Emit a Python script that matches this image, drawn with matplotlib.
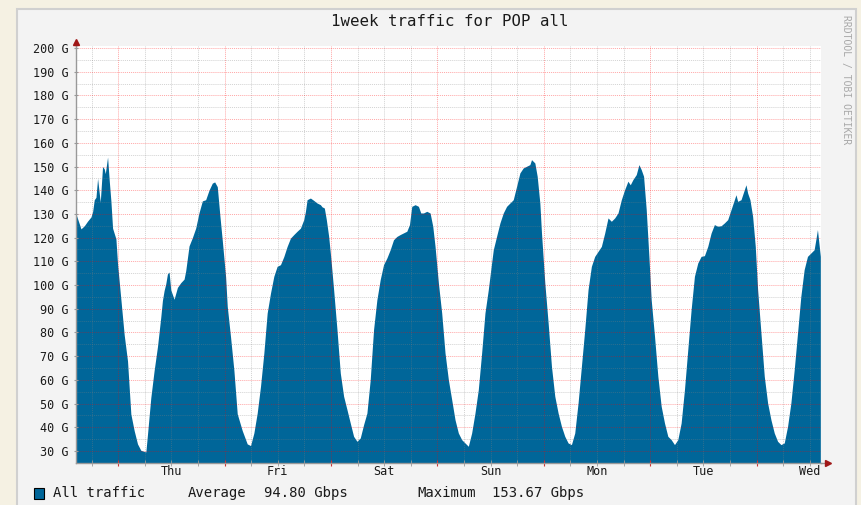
import numpy as np
import matplotlib.pyplot as plt
from matplotlib.patches import Rectangle

# rrdtool 스타일 폰트 (모노스페이스)
plt.rcParams['font.family'] = ['DejaVu Sans Mono']

# ===== 데이터: 시작(수 14:30)부터의 시간(h) / 트래픽(Gbps) =====
hours = [
    0.00, 1.12, 1.87, 2.62, 3.37, 3.75, 4.12, 4.50, 4.87, 5.47,
    5.99, 6.37, 6.60, 7.12, 7.50, 7.87, 8.25, 9.00, 9.37, 10.12,
    10.87, 11.62, 12.37, 13.12, 13.87, 14.62, 15.75, 16.12, 16.87, 17.62,
    18.37, 19.12, 19.49, 19.87, 20.24, 20.62, 20.99, 21.37, 22.12, 22.87,
    23.62, 24.37, 24.74, 25.49, 26.24, 26.99, 27.74, 28.49, 29.24, 29.99,
    30.74, 31.27, 31.86, 32.46, 32.98, 33.74, 34.11, 34.86, 35.61, 36.36,
    37.49, 38.61, 39.36,
    40.11, 40.86, 41.61, 42.36, 43.11, 43.86, 44.61, 45.36, 46.11, 46.86,
    47.61, 48.36, 49.11, 49.86, 50.61, 51.36, 51.73, 52.11, 52.86, 53.61,
    54.36, 55.11, 55.48, 56.00, 56.45, 56.98, 57.50, 58.10, 58.85, 59.60,
    60.35, 61.10, 61.85, 62.60, 63.35, 64.10, 64.85, 65.60, 66.35, 67.10,
    67.85, 68.60, 69.35, 70.10, 70.85, 71.60, 72.35, 73.10, 73.85, 74.60,
    75.20, 75.72, 76.47, 77.22, 77.75, 78.35, 79.10, 79.85, 80.45, 80.97,
    81.72, 82.47, 83.22, 83.97, 84.72, 85.47, 86.22, 86.97, 87.72, 88.47,
    89.22, 89.97, 90.72, 91.47, 92.22, 92.97, 93.72,
    94.10, 94.85, 95.60, 96.35, 97.10, 97.85, 98.60, 99.35, 100.10, 100.85,
    101.60, 102.35, 102.72, 103.47, 104.00, 104.60, 104.97, 105.72, 106.47, 107.22,
    107.97, 108.72, 109.47, 110.22, 110.97, 111.72, 112.47, 113.22, 113.97, 114.72,
    115.47, 116.22, 116.97, 117.72, 118.47, 119.22, 119.97, 120.72, 121.47, 122.22,
    122.97, 123.71, 124.46, 124.99, 125.59, 126.34, 126.94, 127.46, 127.99, 128.59,
    129.19, 129.71, 130.46, 131.21, 131.96, 132.71, 133.46, 134.21, 134.96, 135.71,
    136.46, 137.21, 137.96, 138.71, 139.46, 140.21, 140.96, 141.71, 142.46, 143.21,
    143.96, 144.71, 145.46, 146.21, 146.96, 147.71, 148.46, 148.83, 149.21, 149.96,
    150.71, 151.08, 151.46, 151.98, 152.58, 153.18, 153.71, 154.46, 155.21, 155.96,
    156.71, 157.46, 158.21, 158.96, 159.71, 160.46, 161.21, 161.96, 162.71, 163.45,
    164.20, 164.95, 165.70, 166.45, 166.83, 167.20, 167.85,
]
gbps = [
    130.0, 123.7, 125.0, 127.0, 128.7, 131.0, 136.0, 137.0, 145.0, 135.0,
    150.0, 149.0, 147.0, 154.0, 144.0, 135.5, 124.0, 119.5, 109.0, 94.0,
    79.0, 68.0, 45.6, 38.6, 33.0, 30.3, 29.6, 37.0, 52.5, 64.0,
    74.0, 86.5, 93.5, 97.7, 100.5, 104.7, 105.5, 98.0, 94.0, 99.0,
    101.0, 102.5, 106.0, 116.5, 120.0, 124.0, 130.5, 135.5, 136.0, 140.0,
    143.0, 143.5, 141.5, 129.0, 119.0, 103.5, 91.0, 78.0, 64.0, 45.7,
    38.6, 33.0, 32.3,
    37.6, 46.0, 57.3, 71.3, 88.2, 96.6, 103.7, 107.9, 108.6, 112.0,
    116.3, 119.8, 121.3, 122.7, 124.0, 127.6, 131.0, 136.0, 136.7, 135.7,
    134.6, 133.9, 133.0, 132.5, 127.6, 120.5, 110.7, 98.0, 81.2, 62.9,
    53.1, 47.5, 41.8, 36.2, 34.1, 35.5, 41.1, 46.0, 60.1, 81.2,
    93.8, 102.3, 108.6, 111.4, 114.9, 119.1, 120.5, 121.3, 122.0, 122.7,
    125.5, 133.2, 133.9, 133.2, 130.4, 130.4, 131.1, 130.4, 124.8, 116.3,
    100.9, 88.2, 71.3, 60.1, 51.7, 43.2, 37.6, 34.8, 33.4, 32.0,
    37.6, 46.0, 55.9, 71.3, 88.2, 98.0, 109.3,
    114.9, 120.6, 126.2, 130.4, 133.2, 134.6, 136.0, 141.6, 147.3, 149.4,
    150.1, 150.8, 152.9, 151.5, 145.9, 134.6, 122.0, 100.9, 84.0, 65.7,
    53.1, 46.0, 40.4, 36.2, 33.4, 32.7, 37.6, 50.3, 65.7, 81.2,
    98.1, 107.9, 112.1, 114.2, 116.3, 121.9, 128.3, 126.9, 128.3, 130.4,
    136.0, 140.2, 143.8, 142.3, 144.5, 146.6, 150.8, 148.7, 145.9, 131.8,
    112.1, 93.8, 78.4, 61.5, 48.9, 41.8, 36.2, 34.8, 32.7, 34.8,
    41.8, 55.9, 72.8, 89.6, 103.7, 109.3, 112.1, 112.4, 116.3, 121.9,
    125.5, 124.8, 125.0, 126.2, 127.6, 131.8, 136.0, 138.1, 135.3, 136.0,
    140.2, 142.3, 138.8, 136.0, 129.0, 116.3, 98.1, 79.8, 61.5, 50.3,
    43.2, 37.6, 34.1, 32.7, 33.4, 40.4, 50.3, 64.3, 79.8, 95.2,
    106.5, 112.1, 113.5, 114.9, 119.1, 123.4, 112.1,
]
day_names = ['Thu', 'Fri', 'Sat', 'Sun', 'Mon', 'Tue', 'Wed']
y_ticks = list(range(30, 201, 10))
avg_text = '94.80 Gbps'
max_text = '153.67 Gbps'

W, H = 861, 505
def fx(px):
    return px / W
def fy(py):
    return 1 - py / H

fig = plt.figure(figsize=(W / 100, H / 100), dpi=100, facecolor='#f5f1e3')

# 회색 캔버스 + 테두리
fig.add_artist(Rectangle((fx(17), -0.05), fx(856) - fx(17), fy(9) + 0.05,
                         transform=fig.transFigure, facecolor='#f3f3f3',
                         edgecolor='#d0d0d0', linewidth=1.5, zorder=-1))

ax = fig.add_axes([fx(76), fy(462.5), fx(821) - fx(76), fy(45.6) - fy(462.5)])
ax.set_facecolor('white')
ax.set_xlim(0, 168)
ax.set_ylim(25.15, 201)

# 영역 그래프
ax.fill_between(hours, 0, gbps, color='#006699', linewidth=0, zorder=1)

# 그리드 (6시간 / 하루, 5G / 10G)
day_start = 9.5
ax.set_xticks([day_start + 24 * k for k in range(7)])
ax.set_xticks([day_start - 6 + 6 * k for k in range(28)], minor=True)
ax.set_xticklabels([])
ax.set_yticks(y_ticks)
ax.set_yticks(list(range(35, 200, 10)), minor=True)
ax.set_yticklabels([f'{v} G' for v in y_ticks])
ax.set_axisbelow(False)
ax.grid(which='major', color='#ff0000', alpha=0.35, linestyle=(0, (1, 1)), linewidth=0.7)
ax.grid(which='minor', color='#808080', alpha=0.35, linestyle=(0, (1, 1)), linewidth=0.7)

ax.tick_params(axis='y', which='major', length=3, direction='inout', color='#999999',
               labelsize=8.5, pad=4, labelcolor='#1a1a1a')
ax.tick_params(axis='y', which='minor', length=0)
ax.tick_params(axis='x', which='major', length=5, direction='inout', color='#cc3333')
ax.tick_params(axis='x', which='minor', length=4, direction='inout', color='#999999')

for side in ['top', 'right']:
    ax.spines[side].set_visible(False)
for side in ['left', 'bottom']:
    ax.spines[side].set_color('#999999')
    ax.spines[side].set_linewidth(1)
    ax.spines[side].set_zorder(4)

# 축 화살표
ax.plot([0, 0], [201, 202.5], color='#999999', lw=1, clip_on=False, zorder=4)
ax.plot([0], [202.6], marker='^', color='#a01818', markersize=5, clip_on=False, zorder=5)
ax.plot([168, 169], [25.15, 25.15], color='#999999', lw=1, clip_on=False, zorder=4)
ax.plot([169.5], [25.15], marker='>', color='#a01818', markersize=5, clip_on=False, zorder=5)

# 요일 라벨 (정오 위치)
for k, name in enumerate(day_names):
    ax.text(day_start + 12 + 24 * k, -(472 - 462.5) / 417, name,
            transform=ax.get_xaxis_transform(), ha='center', va='center',
            fontsize=8.5, color='#1a1a1a')

# 제목 / 워터마크
fig.text(fx(450), fy(22), '1week traffic for POP all', ha='center', va='center',
         fontsize=11.3, color='#1a1a1a')
fig.text(fx(846), fy(80), 'RRDTOOL / TOBI OETIKER', rotation=270, ha='center',
         va='center', fontsize=7, color='#a8a8a8')

# 범례
fig.add_artist(Rectangle((fx(34), fy(499)), fx(10), 11 / H, transform=fig.transFigure,
                         facecolor='#006699', edgecolor='#000000', linewidth=0.8))
fig.text(fx(53), fy(493), 'All traffic', va='center', fontsize=10, color='#1a1a1a')
fig.text(fx(188), fy(493), 'Average', va='center', fontsize=10, color='#1a1a1a')
fig.text(fx(264), fy(493), avg_text, va='center', fontsize=10, color='#1a1a1a')
fig.text(fx(417), fy(493), 'Maximum', va='center', fontsize=10, color='#1a1a1a')
fig.text(fx(492), fy(493), max_text, va='center', fontsize=10, color='#1a1a1a')

fig.savefig('out.png', dpi=100, facecolor=fig.get_facecolor())
